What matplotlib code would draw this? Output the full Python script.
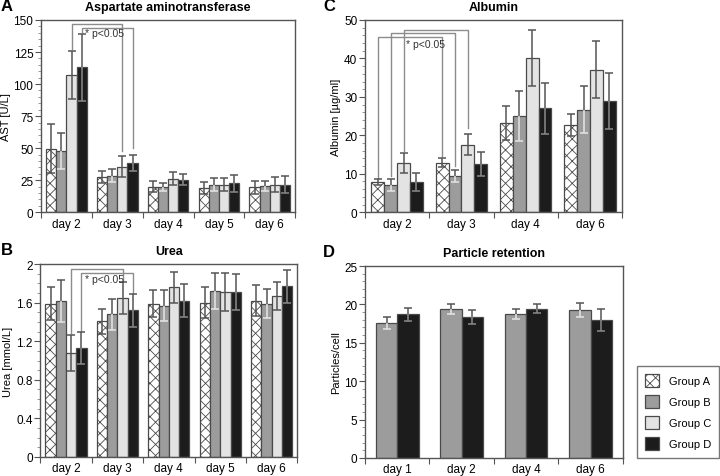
import numpy as np
import matplotlib
matplotlib.use('Agg')
import matplotlib.pyplot as plt
from matplotlib.patches import Patch
from matplotlib.ticker import MultipleLocator, AutoMinorLocator

plt.rcParams['font.family'] = ['Liberation Sans', 'DejaVu Sans']
plt.rcParams['hatch.color'] = '#808080'
plt.rcParams['hatch.linewidth'] = 0.6


#---------------------------------------------------------------------------
# Data

groups = ['Group A', 'Group B', 'Group C', 'Group D']

# A: AST [U/L]
ast_days = ['day 2', 'day 3', 'day 4', 'day 5', 'day 6']
ast_mean = [[49.5, 27.5, 20.0, 19.0, 19.5],
            [48.0, 28.5, 19.5, 21.5, 20.5],
            [107.0, 35.5, 26.0, 21.5, 21.5],
            [113.0, 38.5, 25.5, 22.5, 21.5]]
ast_err  = [[19.0, 5.0, 4.0, 4.5, 5.0],
            [14.0, 5.0, 3.0, 5.0, 4.0],
            [19.0, 8.0, 5.0, 5.0, 6.0],
            [26.0, 6.5, 4.5, 6.5, 6.5]]

# B: Urea [mmol/L]
urea_days = ['day 2', 'day 3', 'day 4', 'day 5', 'day 6']
urea_mean = [[1.59, 1.41, 1.59, 1.60, 1.62],
             [1.62, 1.48, 1.57, 1.72, 1.59],
             [1.08, 1.65, 1.76, 1.71, 1.67],
             [1.13, 1.52, 1.62, 1.71, 1.77]]
urea_err  = [[0.17, 0.13, 0.14, 0.16, 0.16],
             [0.22, 0.16, 0.16, 0.19, 0.15],
             [0.19, 0.17, 0.16, 0.20, 0.15],
             [0.17, 0.17, 0.17, 0.19, 0.17]]

# C: Albumin [ug/ml]
alb_days = ['day 2', 'day 3', 'day 4', 'day 6']
alb_mean = [[7.8, 12.9, 23.3, 22.6],
            [7.0, 9.4, 25.0, 26.6],
            [12.7, 17.6, 40.2, 37.1],
            [7.9, 12.5, 27.0, 28.9]]
alb_err  = [[0.8, 1.1, 4.4, 2.9],
            [1.6, 1.5, 6.4, 6.1],
            [2.6, 2.7, 7.3, 7.4],
            [2.3, 3.1, 6.7, 7.2]]

# D: Particle retention (groups B and D only)
part_days = ['day 1', 'day 2', 'day 4', 'day 6']
part_groups = [1, 3]
part_mean = [[17.6, 19.45, 18.8, 19.3],
             [18.7, 18.4, 19.45, 17.95]]
part_err  = [[0.8, 0.65, 0.65, 0.95],
             [0.85, 0.9, 0.55, 1.4]]

# significance brackets: (day_from, group, day_to, group, y_top, y_left_end, y_right_end)
ast_brackets  = [(0, 2, 1, 2, 147.0, 127.0, 48.0),
                 (0, 3, 1, 3, 144.0, 140.5, 50.0)]
urea_brackets = [(0, 2, 1, 2, 1.95, 1.29, 1.83),
                 (0, 3, 1, 3, 1.91, 1.31, 1.70)]
alb_brackets  = [(0, 0, 1, 0, 45.6, 9.0, 14.6),
                 (0, 1, 1, 1, 46.7, 9.3, 12.1),
                 (0, 2, 1, 2, 47.4, 15.8, 21.9)]


#---------------------------------------------------------------------------
# Styles
face  = ['white', '#9c9c9c', '#e3e3e3', '#1c1c1c']
hatch = ['xxx', None, None, None]
edge  = '#4a4a4a'
err_hi = '#555555'
err_lo = ['#555555', '#e6e6e6', '#555555', '#8a8a8a']
bracket_c = '#8c8c8c'


def bar_panel(ax, days, means, errs, gidx, width, ymax, major, nminor, ylabel, title):
    x = np.arange(len(days))
    n = len(gidx)
    for k, g in enumerate(gidx):
        xs = x + (k - (n - 1) / 2) * width
        m = np.array(means[k]); e = np.array(errs[k])
        ax.bar(xs, m, width, color=face[g], hatch=hatch[g], edgecolor=edge,
               linewidth=0.9, zorder=2)
        ax.vlines(xs, m, m + e, color=err_hi, lw=1.1, zorder=3)
        ax.vlines(xs, m - e, m, color=err_lo[g], lw=1.1, zorder=3)
        ax.plot(xs, m + e, ls='none', marker='_', ms=6, mew=1.1, color=err_hi, zorder=3)
        ax.plot(xs, m - e, ls='none', marker='_', ms=6, mew=1.1, color=err_lo[g], zorder=3)
    ax.set_xlim(-0.5, len(days) - 0.5)
    ax.set_ylim(0, ymax)
    ax.set_xticks(np.arange(len(days) + 1) - 0.5)
    ax.set_xticklabels([])
    ax.set_xticks(x, minor=True)
    ax.set_xticklabels(days, minor=True)
    ax.tick_params(axis='x', which='minor', length=0, pad=4, labelsize=8.5)
    ax.tick_params(axis='x', which='major', length=4, color='#555555')
    ax.yaxis.set_major_locator(MultipleLocator(major))
    ax.yaxis.set_minor_locator(AutoMinorLocator(nminor))
    ax.tick_params(axis='y', which='major', length=4, labelsize=8.5, pad=1.5, color='#555555')
    ax.tick_params(axis='y', which='minor', length=2, color='#888888')
    for s in ax.spines.values():
        s.set_color('#555555'); s.set_linewidth(1.0)
    ax.set_ylabel(ylabel, fontsize=8, labelpad=2)
    ax.set_title(title, fontsize=9, fontweight='bold', pad=7)
    return x


def brackets(ax, ngroups, width, items, text_xy):
    for d0, g0, d1, g1, yt, yl, yr in items:
        x0 = d0 + (g0 - (ngroups - 1) / 2) * width
        x1 = d1 + (g1 - (ngroups - 1) / 2) * width
        ax.plot([x0, x0, x1, x1], [yl, yt, yt, yr], color=bracket_c, lw=1.0, zorder=1)
    ax.text(text_xy[0], text_xy[1], '* p<0.05', fontsize=7.5, color='#333333',
            va='center', ha='left', zorder=4)


fig = plt.figure(figsize=(7.2, 4.77), dpi=100)
axA = fig.add_axes([0.057, 0.553, 0.353, 0.403])
axC = fig.add_axes([0.507, 0.553, 0.357, 0.403])
axB = fig.add_axes([0.056, 0.040, 0.357, 0.404])
axD = fig.add_axes([0.507, 0.038, 0.358, 0.402])

bar_panel(axA, ast_days, ast_mean, ast_err, [0, 1, 2, 3], 0.2, 150, 25, 5,
          'AST [U/L]', 'Aspartate aminotransferase')
brackets(axA, 4, 0.2, ast_brackets, (0.36, 140))

bar_panel(axB, urea_days, urea_mean, urea_err, [0, 1, 2, 3], 0.2, 2.0, 0.4, 4,
          'Urea [mmol/L]', 'Urea')
axB.yaxis.set_major_formatter(plt.FuncFormatter(lambda v, p: f'{v:g}'))
brackets(axB, 4, 0.2, urea_brackets, (0.36, 1.85))

bar_panel(axC, alb_days, alb_mean, alb_err, [0, 1, 2, 3], 0.2, 50, 10, 5,
          'Albumin [µg/ml]', 'Albumin')
brackets(axC, 4, 0.2, alb_brackets, (0.13, 43.7))

bar_panel(axD, part_days, part_mean, part_err, part_groups, 0.33, 25, 5, 5,
          'Particles/cell', 'Particle retention')

for ax, lab, dx in [(axA, 'A', -0.056), (axB, 'B', -0.055), (axC, 'C', -0.058), (axD, 'D', -0.058)]:
    pos = ax.get_position()
    fig.text(pos.x0 + dx, pos.y1 + 0.030, lab, fontsize=12, fontweight='bold',
             ha='left', va='center')

handles = [Patch(facecolor=face[g], hatch=hatch[g], edgecolor=edge, linewidth=0.9)
           for g in range(4)]
leg = fig.legend(handles, groups, loc='lower right', bbox_to_anchor=(0.999, 0.038),
                 fontsize=8, frameon=True, fancybox=False, edgecolor='#555555',
                 handlelength=1.3, handleheight=1.4, labelspacing=0.75,
                 borderpad=0.7, handletextpad=0.9, borderaxespad=0)
leg.get_frame().set_linewidth(1.0)

plt.savefig('out.png', dpi=100)
